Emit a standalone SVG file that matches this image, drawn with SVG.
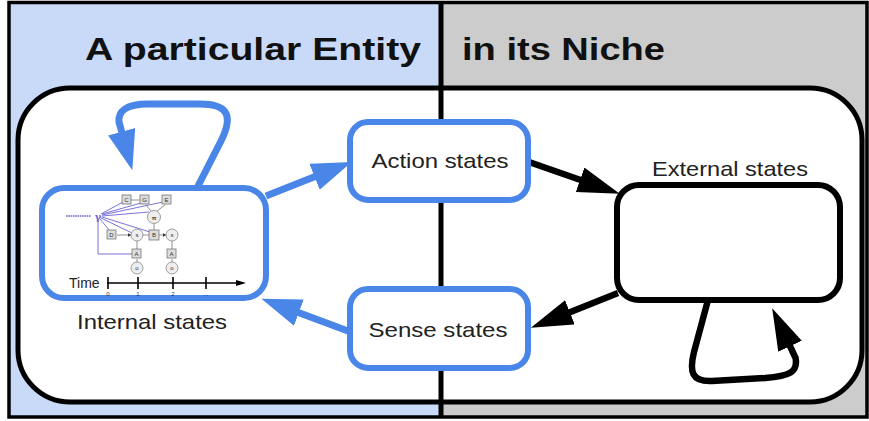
<svg xmlns="http://www.w3.org/2000/svg" width="869" height="421" viewBox="0 0 869 421">
  <style>
    .title { font-family: "Liberation Sans", Arial, sans-serif; font-weight: bold; font-size: 32px; fill: #111; }
    .label { font-family: "Liberation Sans", Arial, sans-serif; font-size: 21px; fill: #222; }
    .blue-box { fill: #fff; stroke: #4a86e8; stroke-width: 6; }
    .black-box { fill: #fff; stroke: #000; stroke-width: 6; }
    .blue-line { fill: none; stroke: #4a86e8; stroke-width: 7; }
    .black-line { fill: none; stroke: #000; stroke-width: 6.5; }
    .tiny { font-family: "Liberation Sans", Arial, sans-serif; font-size: 6px; fill: #333; text-anchor: middle; }
    .net-sq { fill: #ddd; stroke: #777; stroke-width: 0.8; }
    .net-ci { fill: #eee; stroke: #888; stroke-width: 0.8; }
    .net-ln { stroke: #777; stroke-width: 0.8; fill: none; }
    .net-pl { stroke: #6b63d6; stroke-width: 0.9; fill: none; }
  </style>
  <defs>
    <marker id="ah-blue" markerUnits="userSpaceOnUse" viewBox="0 0 40 28" markerWidth="40" markerHeight="28" refX="2" refY="14" orient="auto">
      <path d="M0,0 L40,14 L0,28 Z" fill="#4a86e8"/>
    </marker>
    <marker id="ah-black" markerUnits="userSpaceOnUse" viewBox="0 0 42 26" markerWidth="42" markerHeight="26" refX="2" refY="13" orient="auto">
      <path d="M0,0 L42,13 L0,26 Z" fill="#000"/>
    </marker>
    <marker id="ah-small" markerUnits="userSpaceOnUse" viewBox="0 0 10 6" markerWidth="10" markerHeight="6" refX="1" refY="3" orient="auto">
      <path d="M0,0 L10,3 L0,6 Z" fill="#000"/>
    </marker>
    <marker id="ah-tiny" markerUnits="userSpaceOnUse" viewBox="0 0 4 4" markerWidth="4" markerHeight="4" refX="0.5" refY="2" orient="auto">
      <path d="M0,0 L4,2 L0,4 Z" fill="#333"/>
    </marker>
  </defs>

  <!-- background halves -->
  <rect x="9" y="2" width="431" height="415" fill="#c9daf8"/>
  <rect x="440" y="2" width="427" height="415" fill="#cccccc"/>
  <rect x="9" y="2.5" width="858" height="414.5" fill="none" stroke="#000" stroke-width="3.5"/>

  <!-- headings -->
  <text class="title" x="85" y="60" textLength="336" lengthAdjust="spacingAndGlyphs">A particular Entity</text>
  <text class="title" x="462" y="60" textLength="203" lengthAdjust="spacingAndGlyphs">in its Niche</text>

  <!-- rounded boundary of the system -->
  <rect x="18" y="88" width="844" height="314" rx="52" ry="52" fill="#fff" stroke="#000" stroke-width="5"/>

  <!-- divider between entity and niche -->
  <line x1="441" y1="2" x2="441" y2="417" stroke="#000" stroke-width="5"/>

  <!-- connectors -->
  <g id="connectors">
    <path class="blue-line" d="M197,188 L221,141 C235,113 225,104 200,104 L148,104 C125,104 118,112 119,122 L122.2,133.6" marker-end="url(#ah-blue)"/>
    <path class="blue-line" d="M266,196 L316.4,176" marker-end="url(#ah-blue)"/>
    <path class="blue-line" d="M348,331 L297,312" marker-end="url(#ah-blue)"/>
    <path class="black-line" d="M529,162 L582,180.5" marker-end="url(#ah-black)"/>
    <path class="black-line" d="M618,293 L568,313" marker-end="url(#ah-black)"/>
    <path class="black-line" d="M708,300 L694,352 C689,372 692,382 712,381 L765,378 C790,376 798,372 795.6,358 L789.2,344.4" marker-end="url(#ah-black)"/>
  </g>

  <!-- internal states -->
  <g id="internal-states">
    <rect class="blue-box" x="42" y="188" width="224" height="110" rx="22" ry="22"/>
    <text class="label" x="152" y="329" text-anchor="middle" textLength="150" lengthAdjust="spacingAndGlyphs">Internal states</text>
    <!-- small generative model sketch -->
    <g id="model-sketch">
      <line x1="66" y1="216" x2="91" y2="216" stroke="#6b63d6" stroke-width="1.4" stroke-dasharray="1.6 0.7"/>
      <text x="98" y="220" font-family="'DejaVu Serif', serif" font-size="10" font-weight="bold" fill="#6b63d6" text-anchor="middle">γ</text>
      <path class="net-pl" d="M101,214 L123,202 M102,214 L141,203 M102,215 L163,202 M102,216 L149,212 M102,217 L150,232 M101,218 L132,233 M100,219 L110,231 M98,221 L98,254 L132,254"/>
      <path class="net-ln" d="M131,200 L140,200 M146,205 L151,211 M165,205 L157,211 M154,224 L154,230 M143,235 L149,235 M137,241 L137,249 M137,259 L137,262 M172,241 L172,249 M172,259 L172,262"/>
      <path class="net-ln" d="M117,235 L128,235" marker-end="url(#ah-tiny)"/>
      <path class="net-ln" d="M159,235 L163,235" marker-end="url(#ah-tiny)"/>
      <rect class="net-sq" x="122" y="195" width="9" height="9"/>
      <rect class="net-sq" x="140" y="195" width="9" height="9"/>
      <rect class="net-sq" x="162" y="195" width="9" height="9"/>
      <rect class="net-sq" x="107" y="230" width="9" height="9"/>
      <rect class="net-sq" x="149" y="230" width="10" height="10"/>
      <rect class="net-sq" x="132" y="249" width="9" height="9"/>
      <rect class="net-sq" x="167" y="249" width="9" height="9"/>
      <circle class="net-ci" cx="154" cy="217" r="6.5"/>
      <circle class="net-ci" cx="137" cy="235" r="6"/>
      <circle class="net-ci" cx="172" cy="235" r="6"/>
      <circle class="net-ci" cx="137" cy="268" r="6"/>
      <circle class="net-ci" cx="172" cy="268" r="6"/>
      <text class="tiny" x="126.5" y="201.5">C</text>
      <text class="tiny" x="144.5" y="201.5">G</text>
      <text class="tiny" x="166.5" y="201.5">E</text>
      <text class="tiny" x="111.5" y="236.5">D</text>
      <text class="tiny" x="154" y="237">B</text>
      <text class="tiny" x="136.5" y="255.5">A</text>
      <text class="tiny" x="171.5" y="255.5">A</text>
      <text class="tiny" x="154" y="219.5" font-weight="bold" font-size="8">π</text>
      <text class="tiny" x="137" y="237" font-size="4">s</text>
      <text class="tiny" x="172" y="237" font-size="4">s</text>
      <text class="tiny" x="137" y="270" font-size="4">o</text>
      <text class="tiny" x="172" y="270" font-size="4">o</text>
      <!-- time axis -->
      <text x="69" y="288" font-family="'Liberation Sans', Arial, sans-serif" font-size="14" fill="#222">Time</text>
      <path d="M107,283 L237,283" stroke="#000" stroke-width="1.6" marker-end="url(#ah-small)"/>
      <path d="M108,277 L108,289 M138,277 L138,289 M173,277 L173,289 M206,277 L206,289" stroke="#000" stroke-width="1.6"/>
      <text class="tiny" x="108" y="296">0</text>
      <text class="tiny" x="138" y="296">1</text>
      <text class="tiny" x="173" y="296">2</text>
      <text class="tiny" x="206" y="296">...</text>
    </g>
  </g>

  <!-- action states -->
  <g id="action-states">
    <rect class="blue-box" x="350" y="122" width="178" height="78" rx="18" ry="18"/>
    <text class="label" x="440" y="168" text-anchor="middle" textLength="137" lengthAdjust="spacingAndGlyphs">Action states</text>
  </g>

  <!-- sense states -->
  <g id="sense-states">
    <rect class="blue-box" x="350" y="289" width="178" height="79" rx="18" ry="18"/>
    <text class="label" x="438" y="337" text-anchor="middle" textLength="139" lengthAdjust="spacingAndGlyphs">Sense states</text>
  </g>

  <!-- external states -->
  <g id="external-states">
    <rect class="black-box" x="617" y="185" width="223" height="115" rx="22" ry="22"/>
    <text class="label" x="730" y="176" text-anchor="middle" textLength="156" lengthAdjust="spacingAndGlyphs">External states</text>
  </g>
</svg>
